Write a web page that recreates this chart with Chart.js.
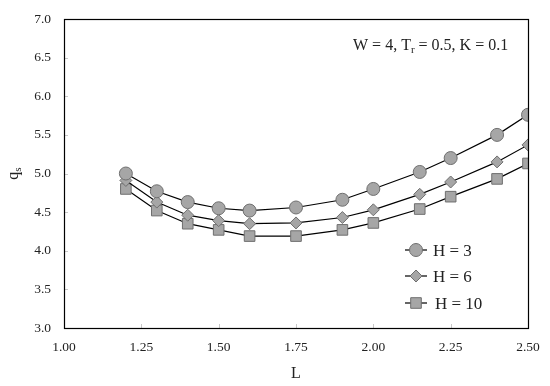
<!DOCTYPE html>
<html>
<head>
<meta charset="utf-8">
<script src="https://cdn.jsdelivr.net/npm/chart.js@4"></script>
<style>
  html, body { margin: 0; padding: 0; background: #fff; }
  #wrap { width: 550px; height: 386px; }
</style>
</head>
<body>
<div id="wrap"><canvas id="chart" width="550" height="386"></canvas></div>
<script>
// values
const lValues = [1.2, 1.3, 1.4, 1.5, 1.6, 1.75, 1.9, 2.0, 2.15, 2.25, 2.4, 2.5];
const qH3  = [5.00, 4.77, 4.63, 4.55, 4.52, 4.56, 4.66, 4.80, 5.02, 5.20, 5.50, 5.76];
const qH6  = [4.91, 4.63, 4.46, 4.39, 4.35, 4.36, 4.43, 4.53, 4.73, 4.89, 5.15, 5.37];
const qH10 = [4.80, 4.52, 4.35, 4.27, 4.19, 4.19, 4.27, 4.36, 4.54, 4.70, 4.93, 5.13];
const seriesLabels = ['H = 3', 'H = 6', 'H = 10'];
const xTicks = [1.00, 1.25, 1.50, 1.75, 2.00, 2.25, 2.50];
const yTicks = [3.0, 3.5, 4.0, 4.5, 5.0, 5.5, 6.0, 6.5, 7.0];

const FONT = '"Liberation Serif", "DejaVu Serif", serif';
const fill = '#a6a6a6';
const edge = '#6f6f6f';

function pts(ys) {
  return lValues.map((x, i) => ({ x: x, y: ys[i] }));
}

function series(label, ys, style, radius) {
  return {
    label: label,
    data: pts(ys),
    borderColor: '#000',
    borderWidth: 1.2,
    pointStyle: style,
    pointRadius: radius,
    pointBackgroundColor: fill,
    pointBorderColor: edge,
    pointBorderWidth: 1,
    tension: 0
  };
}

// box around the plot, inward tick marks, axis titles, note, legend
const decor = {
  id: 'decor',
  afterDraw(chart) {
    const { ctx, chartArea: a, scales } = chart;
    ctx.save();

    // small inward ticks
    ctx.strokeStyle = '#c8c8c8';
    ctx.lineWidth = 1;
    xTicks.forEach(v => {
      const x = Math.round(scales.x.getPixelForValue(v)) + 0.5;
      ctx.beginPath(); ctx.moveTo(x, a.bottom); ctx.lineTo(x, a.bottom - 4); ctx.stroke();
    });
    yTicks.forEach(v => {
      const y = Math.round(scales.y.getPixelForValue(v)) + 0.5;
      ctx.beginPath(); ctx.moveTo(a.left, y); ctx.lineTo(a.left + 4, y); ctx.stroke();
    });

    // frame
    ctx.strokeStyle = '#000';
    ctx.lineWidth = 1.2;
    ctx.strokeRect(Math.round(a.left) + 0.5, Math.round(a.top) + 0.5,
      Math.round(a.right - a.left), Math.round(a.bottom - a.top));

    ctx.fillStyle = '#222';
    ctx.textBaseline = 'alphabetic';

    // x title
    ctx.font = '16px ' + FONT;
    ctx.textAlign = 'center';
    ctx.fillText('L', (a.left + a.right) / 2, 378);

    // y title q_s, rotated
    ctx.save();
    ctx.translate(18, (a.top + a.bottom) / 2);
    ctx.rotate(-Math.PI / 2);
    ctx.textAlign = 'left';
    ctx.font = '16px ' + FONT;
    const qw = ctx.measureText('q').width;
    ctx.font = '11px ' + FONT;
    const sw = ctx.measureText('s').width;
    let sx = -(qw + sw) / 2;
    ctx.font = '16px ' + FONT;
    ctx.fillText('q', sx, 0);
    ctx.font = '11px ' + FONT;
    ctx.fillText('s', sx + qw, 3);
    ctx.restore();

    // parameter note: W = 4, T_r = 0.5, K = 0.1
    const parts = [
      ['W = 4, T', 16, 0],
      ['r', 11, 3],
      [' = 0.5, K = 0.1', 16, 0]
    ];
    let nx = 353;
    ctx.textAlign = 'left';
    parts.forEach(([t, size, dy]) => {
      ctx.font = size + 'px ' + FONT;
      ctx.fillText(t, nx, 50 + dy);
      nx += ctx.measureText(t).width;
    });

    // legend inside the plot, lower right
    const rows = [250, 276, 303];
    chart.data.datasets.forEach((ds, i) => {
      const y = rows[i];
      ctx.strokeStyle = '#000';
      ctx.lineWidth = 1.2;
      ctx.beginPath(); ctx.moveTo(405, y); ctx.lineTo(427, y); ctx.stroke();
      ctx.fillStyle = fill;
      ctx.strokeStyle = edge;
      ctx.lineWidth = 1;
      Chart.helpers.drawPoint(ctx, {
        pointStyle: ds.pointStyle,
        radius: ds.pointRadius,
        rotation: 0,
        borderWidth: 1
      }, 416, y);
      ctx.fillStyle = '#222';
      ctx.font = '17px ' + FONT;
      ctx.fillText(ds.label, i === 2 ? 435 : 433, y + 6);
    });

    ctx.restore();
  }
};

new Chart(document.getElementById('chart'), {
  type: 'line',
  data: {
    datasets: [
      series(seriesLabels[0], qH3, 'circle', 6.5),
      series(seriesLabels[1], qH6, 'rectRot', 6),
      series(seriesLabels[2], qH10, 'rect', 7.5)
    ]
  },
  options: {
    responsive: false,
    animation: false,
    layout: { padding: { top: 19, right: 22, left: 0, bottom: 0 } },
    plugins: {
      legend: { display: false },
      tooltip: { enabled: false }
    },
    scales: {
      x: {
        type: 'linear',
        min: 1.0,
        max: 2.5,
        afterBuildTicks: s => { s.ticks = xTicks.map(v => ({ value: v })); },
        afterFit: s => { s.height = 58; },
        grid: { display: false },
        border: { display: false },
        ticks: {
          padding: 3,
          color: '#222',
          font: { family: FONT, size: 13.5 },
          callback: v => Number(v).toFixed(2)
        }
      },
      y: {
        min: 3.0,
        max: 7.0,
        afterBuildTicks: s => { s.ticks = yTicks.map(v => ({ value: v })); },
        afterFit: s => { s.width = 64; },
        grid: { display: false },
        border: { display: false },
        ticks: {
          padding: 5,
          color: '#222',
          font: { family: FONT, size: 13.5 },
          callback: v => Number(v).toFixed(1)
        }
      }
    }
  },
  plugins: [decor]
});
</script>
</body>
</html>
